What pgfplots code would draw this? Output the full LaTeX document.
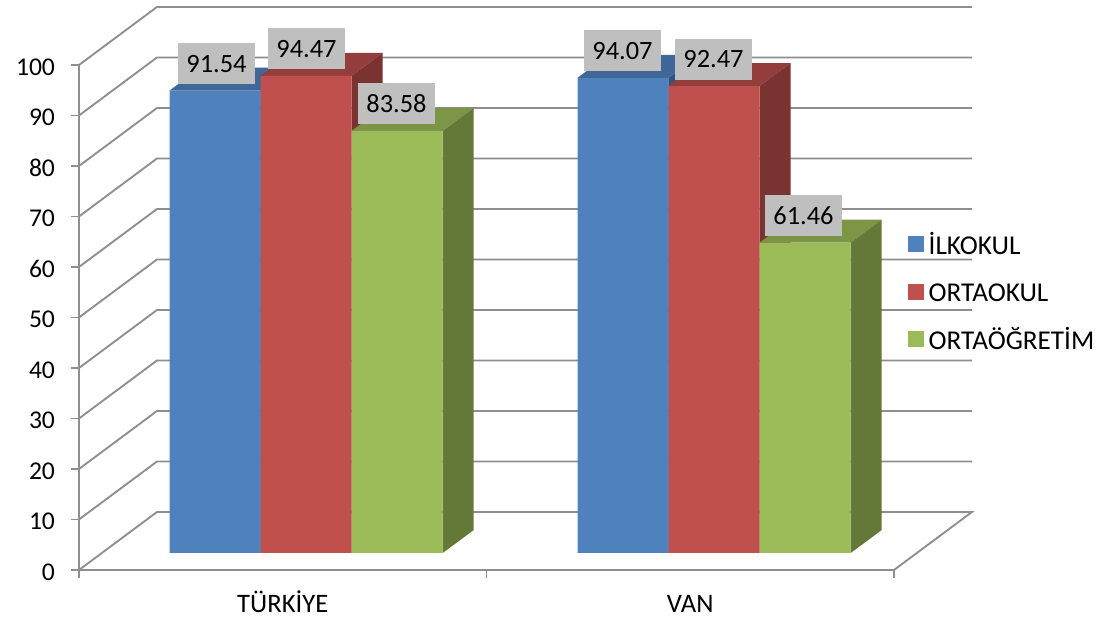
\documentclass[border=0pt]{standalone}
\usepackage{fontspec}
\setmainfont{Carlito}
\usepackage{pgfplots}
\pgfplotsset{compat=1.18}

\definecolor{gridgray}{HTML}{8E8E8E}
\definecolor{boxgray}{HTML}{BFBFBF}
\definecolor{blueF}{HTML}{4F81BD}
\definecolor{blueT}{HTML}{3F6797}
\definecolor{blueS}{HTML}{32527A}
\definecolor{redF}{HTML}{C0504D}
\definecolor{redT}{HTML}{933E3C}
\definecolor{redS}{HTML}{7B3331}
\definecolor{greenF}{HTML}{9BBB59}
\definecolor{greenT}{HTML}{7C9547}
\definecolor{greenS}{HTML}{647838}

\newcommand{\tickfont}{\fontsize{19.2}{23}\selectfont}
\newcommand{\catfont}{\fontsize{20}{24}\selectfont}
\newcommand{\valfont}{\fontsize{19.8}{24}\selectfont}
\newcommand{\legfont}{\fontsize{20.4}{24}\selectfont}

\begin{document}
\begin{tikzpicture}
\useasboundingbox (0,0) rectangle (827.25pt,465pt);

% walls and floor, front plane
\begin{axis}[
    at={(59.25pt,37.5pt)}, anchor=south west,
    x=305.625pt, y=3.7875pt,
    xmin=0, xmax=2, ymin=0, ymax=100,
    clip=false,
    axis lines=left,
    axis line style={draw=gridgray, line width=1.4pt, -},
    tick align=outside,
    tick style={draw=gridgray, line width=1.4pt},
    major tick length=6pt, minor tick length=6pt,
    major x tick style={draw=none},
    xtick={0.5,1.5}, xticklabels={TÜRKİYE,VAN},
    minor xtick={0,1,2},
    ytick={0,10,...,100},
    /pgf/number format/assume math mode=true,
    yticklabel style={font=\tickfont, text=black, xshift=-8.5pt, yshift=-1.5pt},
    xticklabel style={font=\catfont, text=black, inner sep=0pt,
        text height=15pt, text depth=0pt, yshift=-11pt},
]
\addplot[gridgray, line width=1.4pt] coordinates {(0,0)(.1914,11.49)(2.1914,11.49)(2,0)};
\addplot[gridgray, line width=1.4pt] coordinates {(0,10)(.1914,21.49)(2.1914,21.49)};
\addplot[gridgray, line width=1.4pt] coordinates {(0,20)(.1914,31.49)(2.1914,31.49)};
\addplot[gridgray, line width=1.4pt] coordinates {(0,30)(.1914,41.49)(2.1914,41.49)};
\addplot[gridgray, line width=1.4pt] coordinates {(0,40)(.1914,51.49)(2.1914,51.49)};
\addplot[gridgray, line width=1.4pt] coordinates {(0,50)(.1914,61.49)(2.1914,61.49)};
\addplot[gridgray, line width=1.4pt] coordinates {(0,60)(.1914,71.49)(2.1914,71.49)};
\addplot[gridgray, line width=1.4pt] coordinates {(0,70)(.1914,81.49)(2.1914,81.49)};
\addplot[gridgray, line width=1.4pt] coordinates {(0,80)(.1914,91.49)(2.1914,91.49)};
\addplot[gridgray, line width=1.4pt] coordinates {(0,90)(.1914,101.49)(2.1914,101.49)};
\addplot[gridgray, line width=1.4pt] coordinates {(0,100)(.1914,111.49)(2.1914,111.49)};
\end{axis}

% bars, same scales, moved back to their depth in the box
\begin{axis}[
    at={(76.5pt,50.25pt)}, anchor=south west,
    x=306pt, y=3.7875pt,
    xmin=0, xmax=2, ymin=0, ymax=100,
    clip=false,
    hide axis,
    legend cell align=left,
    legend style={
        at={(0.9876,0.518)}, anchor=west,
        draw=none, fill=none, inner sep=0pt,
        row sep=17.15pt,
        font=\legfont,
        nodes={inner sep=0pt, text=black},
        /tikz/column 1/.style={column sep=3.75pt},
    },
]
% ilkokul
\addplot[blueT, fill=blueT, draw=none, forget plot] coordinates {(.1650,91.54)(.2411,96.09)(.4644,96.09)(.3883,91.54)};
\addplot[blueS, fill=blueS, draw=none, forget plot] coordinates {(.3883,91.54)(.4644,96.09)(.4644,4.55)(.3883,0)};
\addplot[blueT, fill=blueT, draw=none, forget plot] coordinates {(1.1650,94.07)(1.2411,98.62)(1.4644,98.62)(1.3883,94.07)};
\addplot[blueS, fill=blueS, draw=none, forget plot] coordinates {(1.3883,94.07)(1.4644,98.62)(1.4644,4.55)(1.3883,0)};
\addplot[ybar, bar width=68.25pt, bar shift=-68.25pt, fill=blueF, draw=none, forget plot] coordinates {(0.5,91.54)(1.5,94.07)};
% ortaokul
\addplot[redT, fill=redT, draw=none, forget plot] coordinates {(.3883,94.47)(.4644,99.02)(.6878,99.02)(.6117,94.47)};
\addplot[redS, fill=redS, draw=none, forget plot] coordinates {(.6117,94.47)(.6878,99.02)(.6878,4.55)(.6117,0)};
\addplot[redT, fill=redT, draw=none, forget plot] coordinates {(1.3883,92.47)(1.4644,97.02)(1.6878,97.02)(1.6117,92.47)};
\addplot[redS, fill=redS, draw=none, forget plot] coordinates {(1.6117,92.47)(1.6878,97.02)(1.6878,4.55)(1.6117,0)};
\addplot[ybar, bar width=68.25pt, bar shift=0pt, fill=redF, draw=none, forget plot] coordinates {(0.5,94.47)(1.5,92.47)};
% ortaogretim
\addplot[greenT, fill=greenT, draw=none, forget plot] coordinates {(.6117,83.58)(.6878,88.13)(.9111,88.13)(.8350,83.58)};
\addplot[greenS, fill=greenS, draw=none, forget plot] coordinates {(.8350,83.58)(.9111,88.13)(.9111,4.55)(.8350,0)};
\addplot[greenT, fill=greenT, draw=none, forget plot] coordinates {(1.6117,61.46)(1.6878,66.01)(1.9111,66.01)(1.8350,61.46)};
\addplot[greenS, fill=greenS, draw=none, forget plot] coordinates {(1.8350,61.46)(1.9111,66.01)(1.9111,4.55)(1.8350,0)};
\addplot[ybar, bar width=68.25pt, bar shift=68.25pt, fill=greenF, draw=none, forget plot] coordinates {(0.5,83.58)(1.5,61.46)};
% value boxes on top of everything
\addplot[draw=none, mark=none, forget plot,
    nodes near coords,
    point meta=y,
    /pgf/number format/.cd, fixed, fixed zerofill, precision=2, assume math mode=true,
    /pgfplots/.cd,
    nodes near coords style={
        anchor=center, yshift=20.25pt,
        fill=boxgray, inner sep=0pt, text=black,
        minimum width=57.75pt, minimum height=30.75pt,
        font=\valfont,
    },
] coordinates {(.2806,91.54)(.5012,94.47)(.7218,83.58)(1.2757,94.07)(1.4988,92.47)(1.7194,61.46)};

\addlegendimage{legend image code/.code={\fill[blueF] (0pt,-5.6pt) rectangle (11.25pt,5.6pt);}}
\addlegendentry{\rule{0pt}{17pt}İLKOKUL}
\addlegendimage{legend image code/.code={\fill[redF] (0pt,-5.6pt) rectangle (11.25pt,5.6pt);}}
\addlegendentry{\rule{0pt}{17pt}ORTAOKUL}
\addlegendimage{legend image code/.code={\fill[greenF] (0pt,-5.6pt) rectangle (11.25pt,5.6pt);}}
\addlegendentry{\rule{0pt}{17pt}ORTAÖĞRETİM}
\end{axis}
\end{tikzpicture}
\end{document}
